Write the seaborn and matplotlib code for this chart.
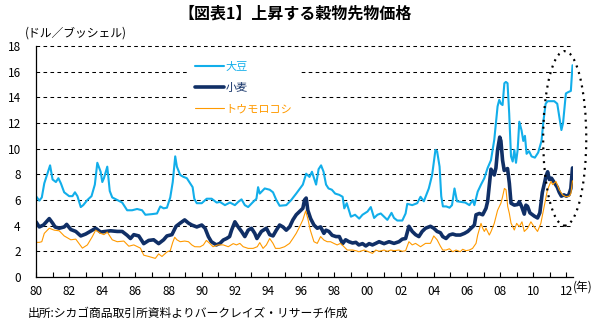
import matplotlib
matplotlib.use("Agg")
import matplotlib.pyplot as plt
from matplotlib.patches import Ellipse
from matplotlib.ticker import MultipleLocator, FixedLocator, FixedFormatter
import pandas as pd
import seaborn as sns

# CBOT nearby futures, USD per bushel
soy_year = [1980.0, 1980.2, 1980.35, 1980.5, 1980.7, 1980.85, 1981.0, 1981.2, 1981.35, 1981.5,
            1981.7, 1982.0, 1982.2, 1982.35, 1982.5, 1982.7, 1982.85, 1983.1, 1983.35, 1983.55,
            1983.7, 1983.9, 1984.0, 1984.1, 1984.3, 1984.45, 1984.6, 1984.9, 1985.2, 1985.5,
            1985.8, 1986.1, 1986.4, 1986.6, 1987.0, 1987.3, 1987.5, 1987.7, 1987.9, 1988.1,
            1988.25, 1988.4, 1988.5, 1988.7, 1988.9, 1989.1, 1989.3, 1989.45, 1989.55, 1989.7,
            1990.0, 1990.3, 1990.6, 1990.9, 1991.1, 1991.4, 1991.7, 1992.0, 1992.2, 1992.4,
            1992.6, 1992.8, 1993.1, 1993.3, 1993.4, 1993.5, 1993.8, 1994.1, 1994.3, 1994.5,
            1994.7, 1995.1, 1995.4, 1995.7, 1996.1, 1996.3, 1996.5, 1996.65, 1996.9, 1997.05,
            1997.2, 1997.35, 1997.5, 1997.65, 1997.85, 1998.05, 1998.3, 1998.5, 1998.6, 1998.75,
            1999.0, 1999.25, 1999.5, 1999.7, 2000.0, 2000.2, 2000.4, 2000.6, 2000.8, 2001.0,
            2001.2, 2001.45, 2001.6, 2001.8, 2002.1, 2002.3, 2002.4, 2002.7, 2003.0, 2003.2,
            2003.4, 2003.7, 2003.9, 2004.1, 2004.2, 2004.35, 2004.45, 2004.55, 2004.75, 2004.95,
            2005.1, 2005.25, 2005.4, 2005.65, 2005.9, 2006.15, 2006.35, 2006.45, 2006.65, 2006.85,
            2007.05, 2007.25, 2007.45, 2007.65, 2007.85, 2007.95, 2008.05, 2008.15, 2008.26, 2008.35,
            2008.45, 2008.55, 2008.66, 2008.76, 2008.86, 2008.96, 2009.06, 2009.16, 2009.3, 2009.4,
            2009.5, 2009.6, 2009.75, 2009.9, 2010.1, 2010.3, 2010.5, 2010.62, 2010.75, 2010.87,
            2011.07, 2011.27, 2011.45, 2011.57, 2011.7, 2011.8, 2011.97, 2012.1, 2012.27, 2012.37]
soy_price = [6.3, 5.95, 6.2, 7.3, 8.1, 8.7, 7.6, 7.4, 7.7, 7.3,
             6.6, 6.3, 6.3, 6.6, 6.3, 5.45, 5.6, 6.0, 6.3, 7.2,
             8.9, 8.2, 7.4, 7.7, 8.6, 6.7, 6.2, 6.0, 5.8, 5.2,
             5.2, 5.3, 5.2, 4.85, 4.9, 4.95, 5.5, 5.35, 5.4, 6.2,
             7.4, 9.4, 8.6, 7.95, 7.8, 7.7, 7.3, 7.0, 6.1, 5.75,
             5.75, 6.1, 6.1, 5.8, 5.85, 5.6, 5.8, 5.6, 5.85, 6.05,
             5.6, 5.45, 5.85, 6.1, 7.0, 6.5, 6.9, 6.8, 6.6, 6.0,
             5.55, 5.6, 6.0, 6.5, 7.2, 8.05, 7.8, 8.2, 7.2, 8.4,
             8.7, 8.2, 7.2, 6.9, 6.8, 6.5, 6.4, 6.25, 5.35, 5.75,
             4.7, 4.85, 4.55, 4.85, 5.1, 5.45, 4.6, 4.85, 4.95, 4.7,
             4.45, 5.0, 4.6, 4.4, 4.4, 4.95, 5.7, 5.6, 5.75, 6.25,
             5.9, 6.9, 7.95, 9.9, 9.8, 8.6, 6.3, 5.5, 5.5, 5.4,
             5.6, 6.9, 5.9, 5.85, 5.8, 5.6, 6.0, 5.6, 6.65, 7.2,
             7.7, 8.5, 9.1, 10.7, 13.3, 13.8, 13.5, 13.4, 15.1, 15.2,
             15.1, 12.75, 9.4, 9.0, 9.9, 8.9, 9.9, 12.1, 11.4, 10.6,
             11.0, 9.6, 9.8, 9.4, 9.3, 9.7, 10.6, 12.2, 13.5, 13.7,
             13.7, 13.7, 13.5, 12.5, 11.45, 12.0, 14.3, 14.4, 14.5, 16.5]

wheat_year = [1980.0, 1980.2, 1980.45, 1980.8, 1981.0, 1981.15, 1981.4, 1981.7, 1981.85, 1982.1,
              1982.4, 1982.7, 1983.0, 1983.4, 1983.6, 1983.9, 1984.2, 1984.5, 1984.9, 1985.2,
              1985.5, 1985.7, 1985.9, 1986.2, 1986.5, 1986.8, 1987.1, 1987.4, 1987.7, 1987.9,
              1988.2, 1988.45, 1988.7, 1988.97, 1989.2, 1989.4, 1989.7, 1990.0, 1990.2, 1990.4,
              1990.58, 1990.88, 1991.1, 1991.3, 1991.5, 1991.68, 1991.8, 1992.0, 1992.2, 1992.4,
              1992.6, 1992.8, 1993.0, 1993.2, 1993.33, 1993.6, 1993.9, 1994.1, 1994.3, 1994.5,
              1994.7, 1994.9, 1995.1, 1995.3, 1995.5, 1995.7, 1995.9, 1996.1, 1996.2, 1996.3,
              1996.4, 1996.57, 1996.77, 1996.97, 1997.17, 1997.37, 1997.5, 1997.67, 1997.87, 1998.1,
              1998.3, 1998.5, 1998.68, 1998.88, 1999.1, 1999.3, 1999.48, 1999.7, 1999.9, 2000.1,
              2000.3, 2000.5, 2000.7, 2001.0, 2001.3, 2001.6, 2001.9, 2002.1, 2002.3, 2002.5,
              2002.7, 2002.9, 2003.1, 2003.3, 2003.5, 2003.8, 2004.0, 2004.2, 2004.4, 2004.54,
              2004.74, 2004.94, 2005.14, 2005.34, 2005.6, 2005.85, 2006.05, 2006.25, 2006.45, 2006.55,
              2006.75, 2006.95, 2007.15, 2007.25, 2007.45, 2007.65, 2007.75, 2007.85, 2007.98, 2008.05,
              2008.15, 2008.25, 2008.45, 2008.56, 2008.66, 2008.86, 2009.06, 2009.16, 2009.3, 2009.46,
              2009.56, 2009.66, 2009.8, 2010.06, 2010.26, 2010.4, 2010.55, 2010.66, 2010.76, 2010.87,
              2010.97, 2011.1, 2011.3, 2011.45, 2011.57, 2011.7, 2011.85, 2012.0, 2012.15, 2012.27,
              2012.37]
wheat_price = [4.3, 3.9, 4.05, 4.55, 4.2, 3.9, 3.8, 3.9, 4.1, 3.7,
               3.55, 3.2, 3.35, 3.65, 3.8, 3.5, 3.55, 3.6, 3.55, 3.55,
               3.25, 3.0, 3.3, 3.2, 2.6, 2.85, 2.9, 2.6, 2.9, 3.2,
               3.3, 3.95, 4.2, 4.45, 4.2, 4.05, 3.9, 4.05, 3.8, 3.15,
               2.75, 2.5, 2.62, 2.88, 3.0, 3.15, 3.65, 4.3, 3.9, 3.55,
               3.15, 3.65, 3.8, 3.4, 3.0, 3.55, 3.8, 3.3, 3.2, 3.65,
               4.05, 3.9, 3.65, 3.9, 4.45, 4.85, 5.1, 5.35, 6.0, 6.15,
               5.2, 4.55, 4.05, 3.8, 3.9, 3.4, 3.65, 3.55, 3.25, 3.15,
               3.15, 2.6, 2.9, 2.75, 2.65, 2.7, 2.5, 2.6, 2.42, 2.6,
               2.5, 2.62, 2.75, 2.6, 2.75, 2.62, 2.75, 2.95, 3.0, 3.95,
               3.55, 3.3, 3.15, 3.55, 3.8, 3.95, 3.8, 3.55, 3.45, 3.15,
               3.0, 3.27, 3.35, 3.27, 3.27, 3.4, 3.55, 3.8, 4.05, 4.85,
               4.95, 4.85, 5.35, 5.9, 8.4, 7.95, 8.5, 9.9, 10.9, 10.6,
               9.1, 8.3, 8.45, 7.3, 5.75, 5.6, 5.65, 5.87, 5.5, 4.9,
               5.6, 5.5, 5.0, 4.75, 4.6, 5.0, 6.6, 7.2, 7.8, 8.2,
               7.6, 7.7, 7.3, 7.0, 6.6, 6.3, 6.4, 6.3, 6.4, 6.9,
               8.5]

corn_year = [1980.0, 1980.2, 1980.35, 1980.5, 1980.8, 1981.1, 1981.4, 1981.7, 1982.1, 1982.4,
             1982.6, 1982.8, 1983.1, 1983.4, 1983.6, 1983.9, 1984.1, 1984.3, 1984.6, 1984.9,
             1985.3, 1985.6, 1985.9, 1986.3, 1986.5, 1986.8, 1987.2, 1987.4, 1987.6, 1987.9,
             1988.1, 1988.25, 1988.37, 1988.5, 1988.7, 1988.97, 1989.2, 1989.4, 1989.58, 1989.9,
             1990.1, 1990.28, 1990.5, 1990.68, 1990.98, 1991.3, 1991.6, 1991.9, 1992.1, 1992.3,
             1992.5, 1992.8, 1993.1, 1993.35, 1993.5, 1993.7, 1993.9, 1994.1, 1994.3, 1994.45,
             1994.7, 1995.0, 1995.3, 1995.5, 1995.7, 1995.9, 1996.1, 1996.27, 1996.4, 1996.55,
             1996.77, 1996.97, 1997.17, 1997.37, 1997.57, 1997.77, 1997.97, 1998.17, 1998.37, 1998.58,
             1998.78, 1999.1, 1999.3, 1999.48, 1999.8, 2000.0, 2000.3, 2000.5, 2000.7, 2001.0,
             2001.2, 2001.4, 2001.6, 2001.9, 2002.1, 2002.3, 2002.5, 2002.7, 2002.9, 2003.2,
             2003.5, 2003.8, 2004.0, 2004.2, 2004.4, 2004.54, 2004.74, 2004.94, 2005.14, 2005.34,
             2005.6, 2005.74, 2005.94, 2006.14, 2006.34, 2006.55, 2006.65, 2006.85, 2006.95, 2007.05,
             2007.15, 2007.35, 2007.45, 2007.65, 2007.85, 2008.05, 2008.15, 2008.26, 2008.36, 2008.46,
             2008.56, 2008.66, 2008.86, 2009.0, 2009.16, 2009.32, 2009.46, 2009.66, 2009.86, 2010.06,
             2010.26, 2010.46, 2010.66, 2010.86, 2011.07, 2011.17, 2011.37, 2011.57, 2011.77, 2011.97,
             2012.17, 2012.27, 2012.37]
corn_price = [2.7, 2.7, 2.75, 3.4, 3.8, 3.65, 3.6, 3.2, 2.9, 2.95,
              2.6, 2.25, 2.5, 3.15, 3.65, 3.4, 3.3, 3.5, 2.9, 2.75,
              2.8, 2.4, 2.5, 2.25, 1.7, 1.6, 1.45, 1.8, 1.6, 1.95,
              2.05, 2.7, 3.1, 2.9, 2.75, 2.8, 2.75, 2.5, 2.36, 2.35,
              2.5, 2.85, 2.6, 2.36, 2.5, 2.5, 2.36, 2.6, 2.5, 2.62,
              2.36, 2.23, 2.23, 2.36, 2.68, 2.23, 2.5, 3.0, 2.62, 2.23,
              2.23, 2.36, 2.62, 3.0, 3.4, 3.9, 4.45, 5.15, 4.55, 3.65,
              2.75, 2.62, 3.15, 2.88, 2.75, 2.75, 2.62, 2.5, 2.62, 2.36,
              2.1, 2.1, 2.05, 1.97, 2.1, 2.0, 1.84, 2.1, 2.0, 2.1,
              2.0, 2.1, 2.05, 2.1, 2.0, 2.05, 2.75, 2.5, 2.62, 2.36,
              2.62, 2.62, 3.2, 2.9, 2.4, 2.1, 2.1, 2.2, 1.97, 2.1,
              1.97, 2.16, 2.05, 2.1, 2.23, 2.62, 3.27, 4.18, 3.8, 3.55,
              3.8, 3.27, 3.53, 4.18, 5.2, 5.75, 6.25, 6.9, 6.8, 5.5,
              4.95, 4.2, 3.66, 4.18, 3.92, 4.3, 3.55, 3.8, 4.3, 3.9,
              3.55, 4.18, 5.5, 6.8, 7.45, 7.2, 7.45, 6.8, 6.4, 6.25,
              6.3, 6.5, 7.5]

series_names = ["大豆", "小麦", "トウモロコシ"]
series_colors = ["#12AEEA", "#102F66", "#FF9A00"]

y_ticks = list(range(0, 20, 2))
x_major = list(range(1980, 2013, 2))
x_labels = [f"{y % 100:02d}" for y in x_major]

sns.set_theme(style="white")
plt.rcParams["font.family"] = ["Noto Sans CJK JP", "DejaVu Sans"]

frames = []
for name, xs, ys in [(series_names[0], soy_year, soy_price),
                     (series_names[1], wheat_year, wheat_price),
                     (series_names[2], corn_year, corn_price)]:
    frames.append(pd.DataFrame({"year": xs, "price": ys, "crop": name}))
data = pd.concat(frames, ignore_index=True)

fig = plt.figure(figsize=(6, 3.3), dpi=100)
ax = fig.add_axes([36 / 600, 1 - 277 / 330, (573 - 36) / 600, (277 - 46) / 330])

widths = {series_names[0]: 1.5, series_names[1]: 2.6, series_names[2]: 0.8}
orders = {series_names[0]: 4, series_names[1]: 2, series_names[2]: 3}
for name, color in zip(series_names, series_colors):
    sns.lineplot(data=data[data["crop"] == name], x="year", y="price", ax=ax,
                 color=color, linewidth=widths[name], estimator=None, sort=False,
                 label=name, zorder=orders[name])

ax.set_xlim(1980, 2012.4)
ax.set_ylim(0, 18)
ax.set_xlabel("")
ax.set_ylabel("")

ax.yaxis.set_major_locator(FixedLocator(y_ticks))
ax.set_yticklabels([str(v) for v in y_ticks])
ax.xaxis.set_major_locator(FixedLocator(x_major))
ax.xaxis.set_major_formatter(FixedFormatter(x_labels))
ax.xaxis.set_minor_locator(MultipleLocator(1))

# dashed horizontal guides at every labelled level above zero
ax.grid(False)
for v in y_ticks[1:]:
    ax.axhline(v, color="black", linewidth=0.75, linestyle=(0, (3.5, 3.2)),
               zorder=1, clip_on=False)

for side in ["top", "right"]:
    ax.spines[side].set_visible(False)
for side in ["left", "bottom"]:
    ax.spines[side].set_color("black")
    ax.spines[side].set_linewidth(0.9)
    ax.spines[side].set_zorder(5)

ax.tick_params(axis="y", length=0, pad=11, labelsize=8.5, colors="black")
ax.tick_params(axis="x", which="both", direction="in", length=3.5, width=0.8,
               color="black", pad=6, labelsize=8.5, labelcolor="black", bottom=True)

handles, labels = ax.get_legend_handles_labels()
leg = ax.legend(handles, labels, loc="upper left", bbox_to_anchor=(0.283, 0.96),
                frameon=True, facecolor="white", edgecolor="none", framealpha=1,
                fancybox=False, fontsize=8, handlelength=2.6, handletextpad=0.15,
                labelspacing=1.0, borderpad=0.6, borderaxespad=0,
                labelcolor="linecolor")
leg.set_zorder(5)

# dotted ring around the latest surge
ring = Ellipse((2011.9, 10.8), width=2.6, height=13.6, fill=False, edgecolor="black",
               linewidth=1.6, linestyle=(0, (0.9, 2.2)), clip_on=False, zorder=6)
ax.add_patch(ring)

fig.text(295 / 600, 1 - 14 / 330, "【図表1】上昇する穀物先物価格", ha="center", va="center",
         fontsize=11.5, fontweight="bold", color="black")
fig.text(25 / 600, 1 - 33 / 330, "(ドル／ブッシェル)", ha="left", va="center",
         fontsize=8.5, color="black")
fig.text(573 / 600, 1 - 287 / 330, "(年)", ha="left", va="center", fontsize=8.5, color="black")
fig.text(28 / 600, 1 - 313 / 330, "出所:シカゴ商品取引所資料よりバークレイズ・リサーチ作成",
         ha="left", va="center", fontsize=8.5, color="black")

fig.savefig("out.png", dpi=100, facecolor="white")
